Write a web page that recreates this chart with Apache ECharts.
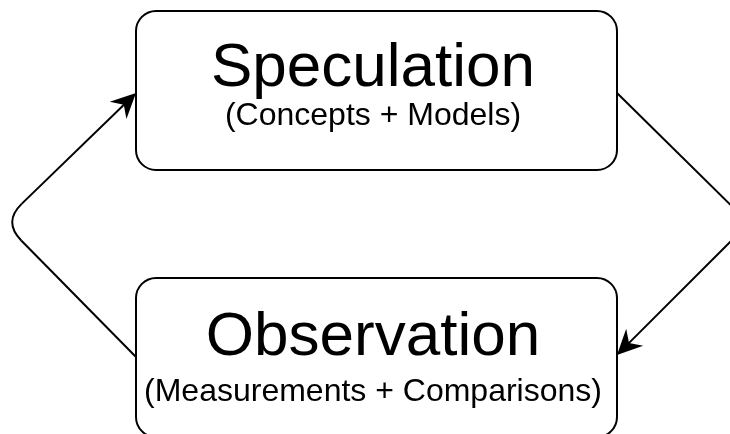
<!DOCTYPE html>
<html>
<head>
<meta charset="utf-8">
<script src="https://cdn.jsdelivr.net/npm/echarts@6/dist/echarts.min.js"></script>
<style>html,body{margin:0;padding:0;background:#fff}#c{width:730px;height:434px}</style>
</head>
<body>
<div id="c"></div>
<script>
// Diagram content
var titles = ['Speculation', 'Observation'];
var subtitles = ['(Concepts + Models)', '(Measurements + Comparisons)'];

// Layout
var boxLeft = 136, boxRight = 617, radius = 20;
var boxTops = [11, 278], boxBottoms = [170, 437];
var titleY = [69, 338], subY = [116, 392];
var textX = 373;
var titleSize = 62, subSize = 32;
var FONT = '"Liberation Sans", Arial, Helvetica, sans-serif';

function arrowHead(tip, dir) {
  var len = Math.hypot(dir[0], dir[1]);
  var ux = dir[0] / len, uy = dir[1] / len;
  var nx = -uy, ny = ux;
  var L = 25, W = 12, N = 17;
  var bx = tip[0] - L * ux, by = tip[1] - L * uy;
  return [
    tip,
    [bx + W * nx, by + W * ny],
    [tip[0] - N * ux, tip[1] - N * uy],
    [bx - W * nx, by - W * ny]
  ];
}

function toward(a, b, d) {
  var dx = b[0] - a[0], dy = b[1] - a[1], l = Math.hypot(dx, dy);
  return [a[0] + dx / l * d, a[1] + dy / l * d];
}

function cornerConnector(p0, v, p1, r) {
  var a = toward(v, p0, r), b = toward(v, p1, r);
  var st = { fill: null, stroke: '#000', lineWidth: 2 };
  return [
    { type: 'line', shape: { x1: p0[0], y1: p0[1], x2: a[0], y2: a[1] }, style: st },
    { type: 'bezierCurve', shape: { x1: a[0], y1: a[1], x2: b[0], y2: b[1], cpx1: v[0], cpy1: v[1] }, style: st },
    { type: 'line', shape: { x1: b[0], y1: b[1], x2: p1[0], y2: p1[1] }, style: st }
  ];
}

var graphics = [];
for (var i = 0; i < titles.length; i++) {
  graphics.push({
    type: 'rect',
    shape: { x: boxLeft, y: boxTops[i], width: boxRight - boxLeft, height: boxBottoms[i] - boxTops[i], r: radius },
    style: { fill: '#fff', stroke: '#000', lineWidth: 2 }
  });
  graphics.push({
    type: 'text', x: textX, y: titleY[i],
    style: { text: titles[i], fill: '#000', font: titleSize + 'px ' + FONT, textAlign: 'center', verticalAlign: 'middle' }
  });
  graphics.push({
    type: 'text', x: textX, y: subY[i],
    style: { text: subtitles[i], fill: '#000', font: subSize + 'px ' + FONT, textAlign: 'center', verticalAlign: 'middle' }
  });
}

// Left connector: Observation -> Speculation
var leftStart = [boxLeft, 357], leftVertex = [3, 222], leftTip = [boxLeft, 93];
graphics = graphics.concat(cornerConnector(leftStart, leftVertex, toward(leftTip, leftVertex, 15), 26));
graphics.push({
  type: 'polygon',
  shape: { points: arrowHead(leftTip, [leftTip[0] - leftVertex[0], leftTip[1] - leftVertex[1]]) },
  style: { fill: '#000', stroke: null }
});

// Right connector: Speculation -> Observation
var rightStart = [boxRight, 93], rightVertex = [749, 223], rightTip = [boxRight, 355];
graphics = graphics.concat(cornerConnector(rightStart, rightVertex, toward(rightTip, rightVertex, 15), 26));
graphics.push({
  type: 'polygon',
  shape: { points: arrowHead(rightTip, [rightTip[0] - rightVertex[0], rightTip[1] - rightVertex[1]]) },
  style: { fill: '#000', stroke: null }
});

var chart = echarts.init(document.getElementById('c'), null, { renderer: 'canvas' });
chart.setOption({
  backgroundColor: '#fff',
  animation: false,
  graphic: { elements: graphics }
});
</script>
</body>
</html>
